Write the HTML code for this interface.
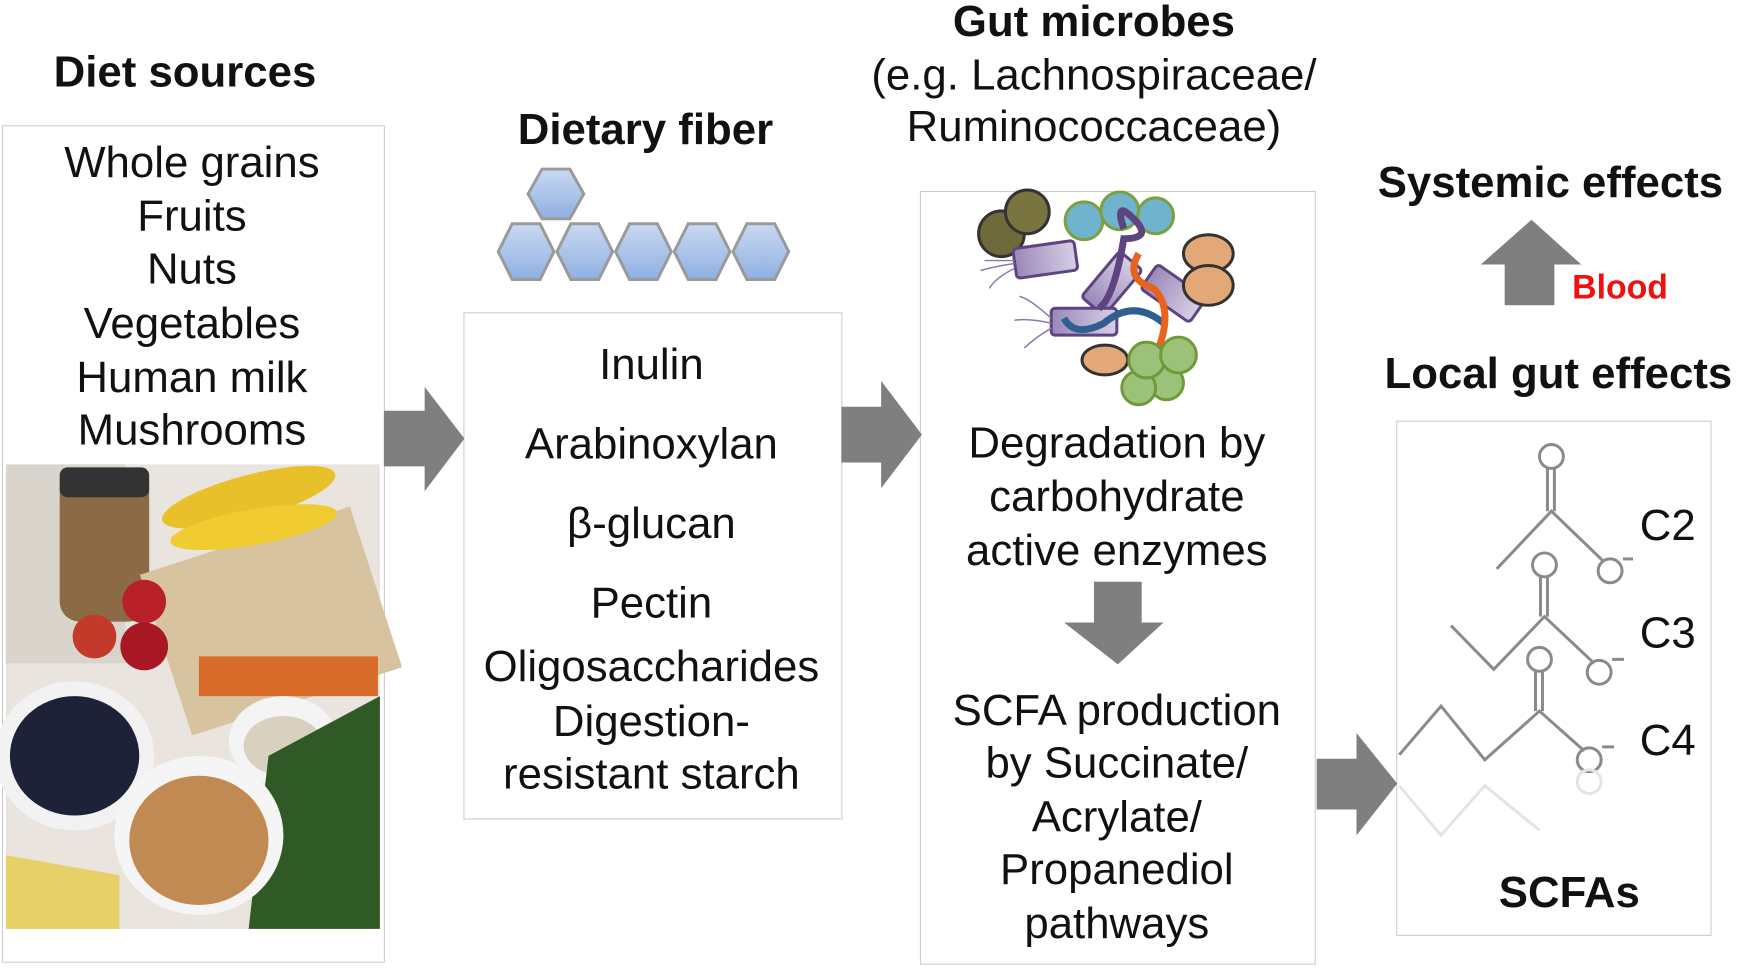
<!DOCTYPE html>
<html><head><meta charset="utf-8"><style>
body{margin:0;width:1742px;height:971px;background:#fff;overflow:hidden;position:relative;font-family:"Liberation Sans",Arial,sans-serif;}
#w{position:absolute;left:0;top:0;width:1742px;height:971px;transform:scale(0.9945);transform-origin:0 0;}
.t{position:absolute;white-space:nowrap;transform:translate(-50%,-50%);color:#111;font-size:44px;line-height:1;}
.b{font-weight:bold;}
.box{position:absolute;border:1.5px solid #c8c8c8;background:#fff;}
svg{position:absolute;left:0;top:0;}
</style></head><body><div id="w">
<div class="box" style="left:2px;top:126px;width:383px;height:840px"></div>
<div class="box" style="left:466px;top:314px;width:379px;height:508px"></div>
<div class="box" style="left:925px;top:192px;width:396px;height:776px"></div>
<div class="box" style="left:1404px;top:423px;width:315px;height:516px"></div>
<svg width="1742" height="971" viewBox="0 0 1742 971">
<defs>
<linearGradient id="hx" x1="0" y1="0" x2="0" y2="1"><stop offset="0" stop-color="#c9d9f2"/><stop offset="1" stop-color="#8fb0e2"/></linearGradient>
<linearGradient id="rod" x1="0" y1="0" x2="1" y2="0"><stop offset="0" stop-color="#9a88b8"/><stop offset="1" stop-color="#d6cfe6"/></linearGradient>
</defs>
<rect x="6" y="467" width="376" height="467" fill="#e9e4de"/>
<rect x="6" y="467" width="120" height="200" fill="#d9d4cc"/>
<rect x="60" y="475" width="90" height="150" rx="20" fill="#8b6a45"/>
<rect x="60" y="470" width="90" height="30" rx="8" fill="#333"/>
<rect x="160" y="540" width="222" height="170" fill="#d8c3a0" transform="rotate(-18 270 620)"/>
<rect x="200" y="660" width="180" height="40" fill="#d86a2a"/>
<ellipse cx="250" cy="500" rx="90" ry="22" fill="#e8c02a" transform="rotate(-15 250 500)"/>
<ellipse cx="255" cy="530" rx="85" ry="18" fill="#f0cc30" transform="rotate(-10 255 530)"/>
<circle cx="145" cy="605" r="22" fill="#b8202a"/><circle cx="95" cy="640" r="22" fill="#c43a2a"/><circle cx="145" cy="650" r="24" fill="#a81824"/>
<ellipse cx="75" cy="760" rx="80" ry="75" fill="#f2f2f2"/>
<ellipse cx="75" cy="760" rx="65" ry="60" fill="#1e2238"/>
<ellipse cx="285" cy="745" rx="55" ry="45" fill="#f4f4f4"/><ellipse cx="285" cy="750" rx="40" ry="30" fill="#d9d1bf"/>
<path d="M270 760 L382 700 L382 934 L250 934 Z" fill="#2f5a26"/>
<ellipse cx="200" cy="840" rx="85" ry="80" fill="#f5f5f5"/><ellipse cx="200" cy="845" rx="70" ry="65" fill="#c08a52"/>
<path d="M6 860 L120 880 L120 934 L6 934 Z" fill="#e7d068"/>
<g fill="#7f7f7f">
<polygon points="386,413 427,413 427,389 467,441 427,494 427,469 386,469"/>
<polygon points="846,409 886,409 886,383 927,437 886,491 886,465 846,465"/>
<polygon points="1324,763 1364,763 1364,737 1405,788 1364,840 1364,814 1324,814"/>
<polygon points="1100,585 1148,585 1148,626 1170,626 1124,668 1070,626 1100,626"/>
<polygon points="1513,307 1563,307 1563,266 1590,266 1540,221 1489,266 1513,266"/>
</g>
<g fill="url(#hx)" stroke="#9a9a9a" stroke-width="3">
<polygon points="545,195 559,170 587,170 601,195 587,220 559,220" transform="translate(-14,0)"/>
<polygon points="501,253 515,225 543,225 557,253 543,281 515,281"/>
<polygon points="560,253 574,225 602,225 616,253 602,281 574,281"/>
<polygon points="619,253 633,225 661,225 675,253 661,281 633,281"/>
<polygon points="678,253 692,225 720,225 734,253 720,281 692,281"/>
<polygon points="737,253 751,225 779,225 793,253 779,281 751,281"/>
</g>
<g stroke-width="3">
<circle cx="1007" cy="235" r="23" fill="#6f6a3a" stroke="#333"/>
<circle cx="1033" cy="213" r="22" fill="#7a7440" stroke="#333"/>
<circle cx="1090" cy="222" r="19" fill="#6fb4cc" stroke="#7aa040"/>
<circle cx="1126" cy="212" r="19" fill="#6fb4cc" stroke="#7aa040"/>
<circle cx="1162" cy="217" r="18" fill="#6fb4cc" stroke="#7aa040"/>
<rect x="1020" y="246" width="62" height="30" rx="4" fill="url(#rod)" stroke="#5d437f" transform="rotate(-8 1050 260)"/>
<rect x="1088" y="270" width="60" height="30" rx="4" fill="url(#rod)" stroke="#5d437f" transform="rotate(-50 1118 285)"/>
<rect x="1150" y="280" width="60" height="30" rx="4" fill="url(#rod)" stroke="#5d437f" transform="rotate(35 1180 295)"/>
<rect x="1057" y="310" width="66" height="27" rx="4" fill="url(#rod)" stroke="#5d437f"/>
<path d="M1070 320 Q1080 340 1110 325 Q1140 300 1170 325" fill="none" stroke="#2f5f8f" stroke-width="7"/>
<path d="M1130 230 Q1120 200 1140 220 Q1160 240 1130 240 Q1120 300 1105 310" fill="none" stroke="#5d437f" stroke-width="7"/>
<path d="M1145 255 Q1130 280 1160 290 Q1180 310 1165 350 L1170 370" fill="none" stroke="#e8641e" stroke-width="7"/>
<ellipse cx="1215" cy="255" rx="25" ry="19" fill="#e2a877" stroke="#333"/>
<ellipse cx="1215" cy="287" rx="25" ry="20" fill="#e2a877" stroke="#333"/>
<ellipse cx="1111" cy="362" rx="23" ry="15" fill="#e2a877" stroke="#333"/>
<circle cx="1173" cy="385" r="17" fill="#9cc27a" stroke="#6f9a3a"/>
<circle cx="1145" cy="390" r="17" fill="#9cc27a" stroke="#6f9a3a"/>
<circle cx="1153" cy="362" r="18" fill="#9cc27a" stroke="#6f9a3a"/>
<circle cx="1185" cy="357" r="18" fill="#9cc27a" stroke="#6f9a3a"/>
</g>
<g stroke="#8b7aa8" stroke-width="1.5" fill="none">
<path d="M1020 265 Q1000 268 986 272 M1020 270 Q1000 280 995 290 M1020 262 Q1005 262 990 262"/>
<path d="M1057 320 Q1035 300 1025 298 M1057 325 Q1035 320 1020 322 M1057 330 Q1040 340 1030 350"/>
</g>
<g stroke="#8a8a8a" stroke-width="3" fill="none">
<circle cx="1560" cy="459" r="12"/><line x1="1556" y1="471" x2="1556" y2="514"/><line x1="1563" y1="471" x2="1563" y2="514"/>
<polyline points="1505,572 1560,514 1613,565"/><circle cx="1619" cy="574" r="12"/><line x1="1632" y1="562" x2="1642" y2="562"/>
<circle cx="1553" cy="568" r="12"/><line x1="1549" y1="580" x2="1549" y2="620"/><line x1="1556" y1="580" x2="1556" y2="620"/>
<polyline points="1459,629 1502,673 1553,620 1603,667"/><circle cx="1608" cy="676" r="12"/><line x1="1621" y1="663" x2="1633" y2="663"/>
<circle cx="1548" cy="663" r="12"/><line x1="1544" y1="675" x2="1544" y2="715"/><line x1="1551" y1="675" x2="1551" y2="715"/>
<polyline points="1407,759 1449,710 1493,764 1548,715 1593,755"/><circle cx="1598" cy="764" r="12"/><line x1="1611" y1="751" x2="1623" y2="751"/>
</g>
<g stroke="#e4e4e4" stroke-width="3" fill="none">
<polyline points="1407,790 1449,840 1493,790 1548,835"/><circle cx="1598" cy="786" r="12"/>
</g>
</svg>
<div class="t b" style="left:186px;top:73px">Diet sources</div>
<div class="t" style="left:193px;top:164px">Whole grains</div>
<div class="t" style="left:193px;top:218px">Fruits</div>
<div class="t" style="left:193px;top:271px">Nuts</div>
<div class="t" style="left:193px;top:326px">Vegetables</div>
<div class="t" style="left:193px;top:380px">Human milk</div>
<div class="t" style="left:193px;top:433px">Mushrooms</div>
<div class="t b" style="left:649px;top:131px">Dietary fiber</div>
<div class="t" style="left:655px;top:367px">Inulin</div>
<div class="t" style="left:655px;top:447px">Arabinoxylan</div>
<div class="t" style="left:655px;top:527px">β-glucan</div>
<div class="t" style="left:655px;top:607px">Pectin</div>
<div class="t" style="left:655px;top:671px">Oligosaccharides</div>
<div class="t" style="left:655px;top:726px">Digestion-</div>
<div class="t" style="left:655px;top:779px">resistant starch</div>
<div class="t b" style="left:1100px;top:22px">Gut microbes</div>
<div class="t" style="left:1100px;top:76px">(e.g. Lachnospiraceae/</div>
<div class="t" style="left:1100px;top:128px">Ruminococcaceae)</div>
<div class="t" style="left:1123px;top:446px">Degradation by</div>
<div class="t" style="left:1123px;top:500px">carbohydrate</div>
<div class="t" style="left:1123px;top:554px">active enzymes</div>
<div class="t" style="left:1123px;top:715px">SCFA production</div>
<div class="t" style="left:1123px;top:768px">by Succinate/</div>
<div class="t" style="left:1123px;top:822px">Acrylate/</div>
<div class="t" style="left:1123px;top:875px">Propanediol</div>
<div class="t" style="left:1123px;top:929px">pathways</div>
<div class="t b" style="left:1559px;top:184px">Systemic effects</div>
<div class="t b" style="left:1629px;top:289px;color:#f01010;font-size:34px">Blood</div>
<div class="t b" style="left:1567px;top:376px">Local gut effects</div>
<div class="t" style="left:1677px;top:529px">C2</div>
<div class="t" style="left:1677px;top:637px">C3</div>
<div class="t" style="left:1677px;top:745px">C4</div>
<div class="t b" style="left:1578px;top:898px">SCFAs</div>
</div></body></html>
